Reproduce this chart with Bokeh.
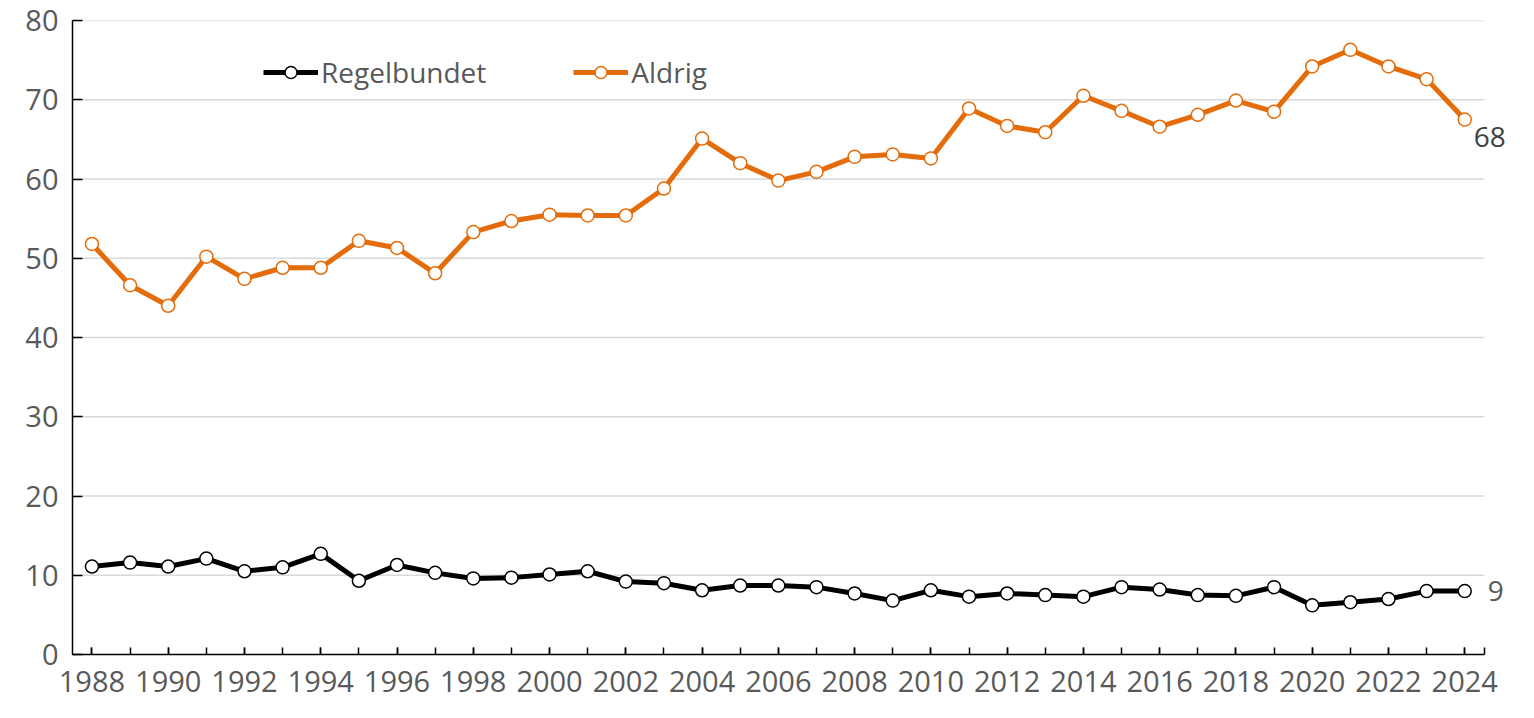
from bokeh.plotting import figure
from bokeh.models import FixedTicker, Legend, LegendItem, Label, Range1d, ColumnDataSource
from bokeh.embed import file_html
from bokeh.resources import INLINE

years = list(range(1988, 2025))
regelbundet = [11.1, 11.6, 11.1, 12.1, 10.5, 11.0, 12.7, 9.3, 11.3, 10.3,
               9.6, 9.7, 10.1, 10.5, 9.2, 9.0, 8.1, 8.7, 8.7, 8.5,
               7.7, 6.8, 8.1, 7.3, 7.7, 7.5, 7.3, 8.5, 8.2, 7.5,
               7.4, 8.5, 6.2, 6.6, 7.0, 8.0, 8.0]
aldrig = [51.8, 46.6, 44.0, 50.2, 47.4, 48.8, 48.8, 52.2, 51.3, 48.1,
          53.3, 54.7, 55.5, 55.4, 55.4, 58.8, 65.1, 62.0, 59.8, 60.9,
          62.8, 63.1, 62.6, 68.9, 66.7, 65.9, 70.5, 68.6, 66.6, 68.1,
          69.9, 68.5, 74.2, 76.3, 74.2, 72.6, 67.5]
series_names = ["Regelbundet", "Aldrig"]
end_labels = ["9", "68"]
x_tick_labels = [str(y) for y in range(1988, 2025, 2)]
y_ticks = [0, 10, 20, 30, 40, 50, 60, 70, 80]

ORANGE = "#E46C0A"
BLACK = "#000000"
GRAY = "#595959"
FONT = "Open Sans"

x_lo, x_hi = years[0] - 0.51, years[-1] + 0.52

src = ColumnDataSource(dict(year=years, reg=regelbundet, ald=aldrig))

p = figure(width=1518, height=702, output_backend="svg", toolbar_location=None,
           x_range=Range1d(x_lo, x_hi + 0.89), y_range=Range1d(0, 80),
           min_border_left=72, min_border_right=0, min_border_top=20, min_border_bottom=48)
p.outline_line_color = None
p.background_fill_color = "white"

# grid (drawn as segments so it stops at the axis end)
p.xgrid.grid_line_color = None
p.ygrid.grid_line_color = None
gy = y_ticks[1:]
p.segment(x0=[x_lo] * len(gy), x1=[x_hi] * len(gy), y0=gy, y1=gy,
          line_color="#D9D9D9", line_width=1.5, level="underlay")

# axes
p.xaxis.bounds = (x_lo, x_hi)
p.xaxis.ticker = FixedTicker(ticks=list(range(1988, 2025, 2)),
                             minor_ticks=years + [x_hi])
p.xaxis.major_label_overrides = {int(t): t for t in x_tick_labels}
p.yaxis.ticker = FixedTicker(ticks=y_ticks)
for ax in (p.xaxis[0], p.yaxis[0]):
    ax.axis_line_color = BLACK
    ax.axis_line_width = 1.5
    ax.major_tick_line_color = BLACK
    ax.major_tick_line_width = 1.5
    ax.major_tick_out = 0
    ax.minor_tick_out = 0
    ax.major_label_text_font = FONT
    ax.major_label_text_font_size = "29px"
    ax.major_label_text_color = GRAY
p.xaxis.major_tick_in = 7
p.xaxis.minor_tick_in = 7
p.xaxis.minor_tick_line_color = BLACK
p.xaxis.minor_tick_line_width = 1.5
p.xaxis.major_label_standoff = 16
p.yaxis.major_tick_in = 10
p.yaxis.minor_tick_line_color = None
p.yaxis.major_label_standoff = 14

# series
l1 = p.line("year", "reg", source=src, line_color=BLACK, line_width=5, line_join="round")
s1 = p.scatter("year", "reg", source=src, size=13, fill_color="white", line_color=BLACK, line_width=1.5)
l2 = p.line("year", "ald", source=src, line_color=ORANGE, line_width=5, line_join="round")
s2 = p.scatter("year", "ald", source=src, size=13, fill_color="white", line_color=ORANGE, line_width=1.5)

legend = Legend(items=[LegendItem(label=series_names[0], renderers=[l1, s1]),
                       LegendItem(label=series_names[1], renderers=[l2, s2])],
                orientation="horizontal", location=(191, 563),
                glyph_width=55, glyph_height=30, label_standoff=3, spacing=87,
                padding=0, margin=0, border_line_color=None, background_fill_alpha=0,
                label_text_font=FONT, label_text_font_size="28px", label_text_color=GRAY)
p.add_layout(legend, "center")

# end labels
p.add_layout(Label(x=years[-1], y=regelbundet[-1], text=end_labels[0], x_offset=23, y_offset=0,
                   text_baseline="middle", text_font=FONT, text_font_size="28px", text_color=GRAY))
p.add_layout(Label(x=years[-1], y=aldrig[-1], text=end_labels[1], x_offset=9, y_offset=-17,
                   text_baseline="middle", text_font=FONT, text_font_size="28px", text_color="#404040"))

open("out.html", "w").write(file_html(p, INLINE))
